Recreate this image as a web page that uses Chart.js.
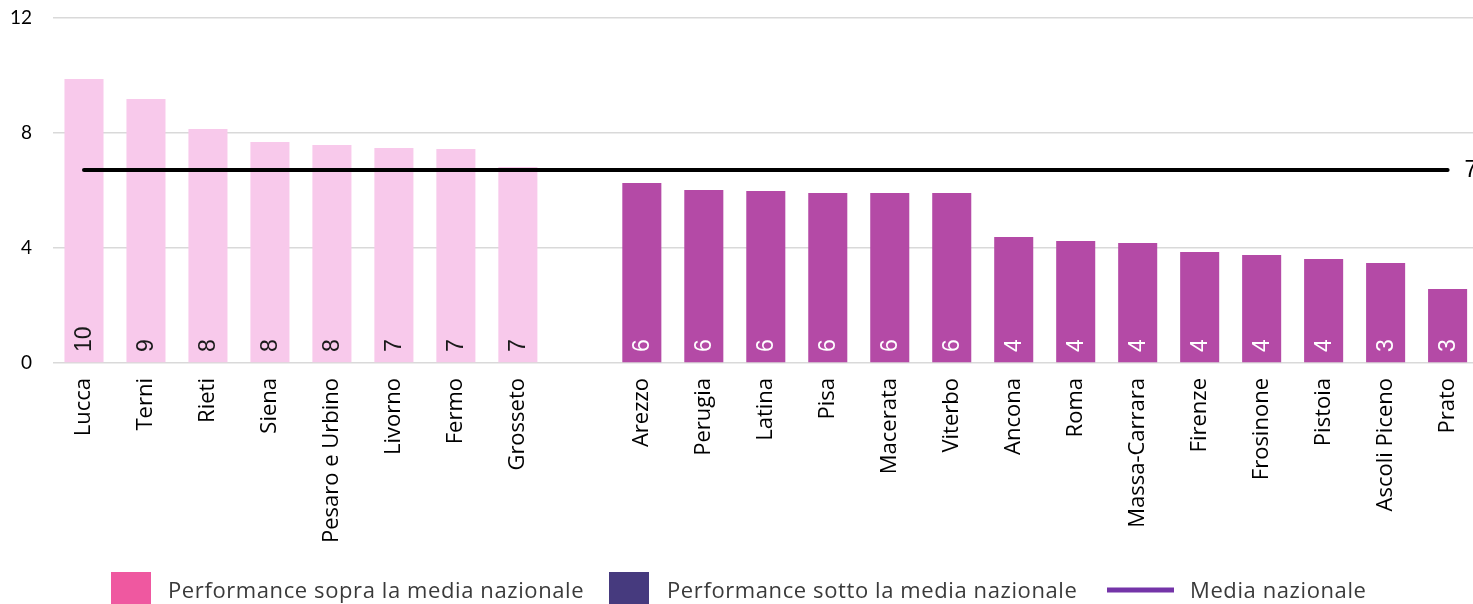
<!DOCTYPE html>
<html>
<head>
<meta charset="utf-8">
<script src="https://cdn.jsdelivr.net/npm/chart.js@4"></script>
<style>
  html, body { margin: 0; padding: 0; background: #fff; overflow: hidden; }
  #wrap { width: 1481px; height: 604px; }
</style>
</head>
<body>
<div id="wrap"><canvas id="c" width="1481" height="604"></canvas></div>
<script>
// ---- data ----
const categories = ['Lucca','Terni','Rieti','Siena','Pesaro e Urbino','Livorno','Fermo','Grosseto','',
  'Arezzo','Perugia','Latina','Pisa','Macerata','Viterbo','Ancona','Roma','Massa-Carrara','Firenze',
  'Frosinone','Pistoia','Ascoli Piceno','Prato'];
const sopraMedia = [9.88, 9.18, 8.14, 7.69, 7.58, 7.48, 7.44, 6.82, null,
  null, null, null, null, null, null, null, null, null, null, null, null, null, null];
const sottoMedia = [null, null, null, null, null, null, null, null, null,
  6.26, 6.02, 5.98, 5.91, 5.91, 5.91, 4.38, 4.24, 4.17, 3.86, 3.76, 3.62, 3.48, 2.57];
const mediaNazionale = 6.71;
const yTicks = [0, 4, 8, 12];
const legendLabels = ['Performance sopra la media nazionale', 'Performance sotto la media nazionale', 'Media nazionale'];

const mediaLine = categories.map(() => mediaNazionale);

const COL_SOPRA = '#f8c9eb';
const COL_SOTTO = '#b44aa6';

const overlay = {
  id: 'overlay',
  afterDatasetsDraw(chart) {
    const ctx = chart.ctx;
    const y0 = chart.scales.y.getPixelForValue(0);
    [0, 1].forEach(di => {
      const meta = chart.getDatasetMeta(di);
      const ds = chart.data.datasets[di];
      meta.data.forEach((el, i) => {
        const v = ds.data[i];
        if (v == null) return;
        ctx.save();
        ctx.translate(el.x, y0 - 11);
        ctx.rotate(-Math.PI / 2);
        ctx.font = '23px "Liberation Sans", Arial, sans-serif';
        ctx.fillStyle = di === 0 ? '#1a1a1a' : '#ffffff';
        ctx.textAlign = 'left';
        ctx.textBaseline = 'middle';
        ctx.fillText(String(Math.round(v)), 0, 1);
        ctx.restore();
      });
    });
    const lm = chart.getDatasetMeta(2);
    const last = lm.data[lm.data.length - 1];
    ctx.save();
    ctx.font = '23px "Liberation Sans", Arial, sans-serif';
    ctx.fillStyle = '#000';
    ctx.textAlign = 'left';
    ctx.textBaseline = 'middle';
    ctx.fillText(String(Math.round(mediaNazionale)), last.x + 17, last.y + 1);
    ctx.restore();
  },
  afterDraw(chart) {
    const ctx = chart.ctx;
    ctx.save();
    ctx.font = '22px "Open Sans", "Noto Sans", sans-serif';
    try { ctx.letterSpacing = '0.6px'; } catch (e) {}
    ctx.textBaseline = 'middle';
    ctx.textAlign = 'left';
    const ty = 592;
    ctx.fillStyle = '#ef58a0';
    ctx.fillRect(111, 572, 40, 34);
    ctx.fillStyle = '#3a3a3a';
    ctx.fillText(legendLabels[0], 168, ty);
    ctx.fillStyle = '#463a7e';
    ctx.fillRect(609, 572, 40, 34);
    ctx.fillStyle = '#3a3a3a';
    ctx.fillText(legendLabels[1], 667, ty);
    ctx.strokeStyle = '#7434a8';
    ctx.lineWidth = 5;
    ctx.beginPath();
    ctx.moveTo(1107, 590);
    ctx.lineTo(1174, 590);
    ctx.stroke();
    ctx.fillText(legendLabels[2], 1190, ty);
    ctx.restore();
  }
};

new Chart(document.getElementById('c'), {
  data: {
    labels: categories,
    datasets: [
      { type: 'bar', label: legendLabels[0], data: sopraMedia, backgroundColor: COL_SOPRA,
        grouped: false, categoryPercentage: 1, barPercentage: 0.63, order: 2 },
      { type: 'bar', label: legendLabels[1], data: sottoMedia, backgroundColor: COL_SOTTO,
        grouped: false, categoryPercentage: 1, barPercentage: 0.63, order: 2 },
      { type: 'line', label: legendLabels[2], data: mediaLine, borderColor: '#000000',
        borderWidth: 4, borderCapStyle: 'round', pointRadius: 0, fill: false, order: 1 }
    ]
  },
  options: {
    responsive: false,
    animation: false,
    layout: { padding: { top: 18, left: 0, right: 0, bottom: 0 } },
    plugins: { legend: { display: false }, tooltip: { enabled: false } },
    scales: {
      x: {
        grid: { display: false },
        border: { display: false },
        ticks: {
          autoSkip: false, maxRotation: 90, minRotation: 90, padding: 7,
          color: '#000', font: { family: '"Open Sans", "Noto Sans", sans-serif', size: 22 }
        },
        afterFit(scale) { scale.height = 241; }
      },
      y: {
        min: 0, max: 12,
        afterBuildTicks(scale) { scale.ticks = yTicks.map(v => ({ value: v })); },
        grid: { color: '#d9d9d9', lineWidth: 1.5, drawTicks: false },
        border: { display: false },
        ticks: {
          padding: 21, color: '#000',
          font: { family: 'Lato, "Open Sans", sans-serif', size: 19 }
        },
        afterFit(scale) { scale.width = 53; scale.paddingTop = 0; scale.paddingBottom = 0; }
      }
    }
  },
  plugins: [overlay]
});
</script>
</body>
</html>
